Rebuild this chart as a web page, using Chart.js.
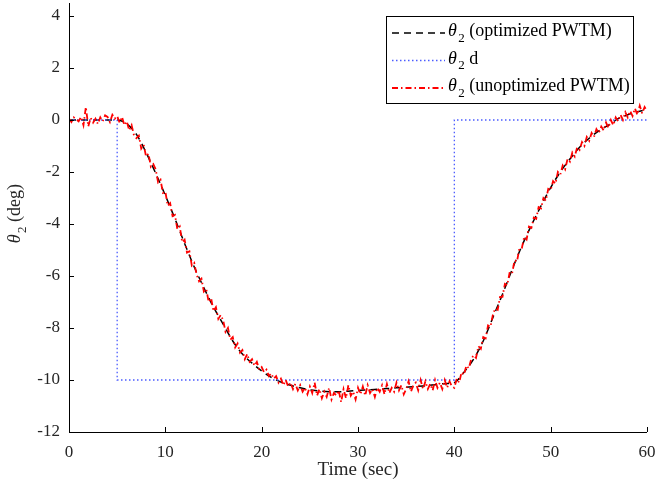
<!DOCTYPE html>
<html>
<head>
<meta charset="utf-8">
<script src="https://cdn.jsdelivr.net/npm/chart.js@4.4.1/dist/chart.umd.min.js"></script>
<style>
  html, body { margin: 0; padding: 0; background: #fff; }
  #wrap { width: 666px; height: 485px; position: relative; }
</style>
</head>
<body>
<div id="wrap"><canvas id="thetaChart"></canvas></div>
<script>
// desired trajectory (step)
const timeStep = [0, 5, 5, 40, 40, 60];
const thetaD = [0, 0, -10, -10, 0, 0];

// optimized PWTM response, sampled every second
const timeCoarse = [0, 1, 2, 3, 4, 5, 6, 7, 8, 9, 10, 11, 12, 13, 14, 15, 16, 17, 18, 19, 20,
    21, 22, 23, 24, 25, 26, 27, 28, 29, 30, 31, 32, 33, 34, 35, 36, 37, 38, 39, 40,
    41, 42, 43, 44, 45, 46, 47, 48, 49, 50, 51, 52, 53, 54, 55, 56, 57, 58, 59, 60];
const thetaOpt = [0, 0, 0, 0, 0, 0, -0.15, -0.55, -1.25, -2.05, -2.9,
    -3.8, -4.75, -5.65, -6.45, -7.2, -7.85, -8.5, -9.0, -9.35, -9.65,
    -9.9, -10.08, -10.2, -10.3, -10.38, -10.42, -10.45, -10.45, -10.43, -10.4,
    -10.38, -10.36, -10.33, -10.3, -10.28, -10.25, -10.22, -10.18, -10.14, -10.1,
    -9.7, -9.2, -8.5, -7.6, -6.7, -5.75, -4.85, -4.05, -3.3, -2.6,
    -2.0, -1.5, -1.05, -0.7, -0.42, -0.2, 0.05, 0.2, 0.32, 0.4];

// unoptimized PWTM response, sampled every 0.25 s
const thetaUnopt = [
    0.05, -0.08, 0.1, 0.02,
    -0.05, 0.12, -0.2, 0.5,
    -0.25, 0.08, -0.1, 0.05,
    -0.15, 0.1, -0.05, 0.18,
    0.12, -0.08, 0.2, 0.05,
    0.15, -0.1, 0.12, -0.2,
    -0.05, -0.4, -0.2, -0.6,
    -0.7, -0.6, -1.1, -0.95,
    -1.4, -1.3, -1.8, -1.7,
    -1.9, -2.4, -2.3, -2.8,
    -2.75, -3.3, -3.2, -3.7,
    -3.65, -4.2, -4.1, -4.7,
    -4.6, -5.1, -5.05, -5.6,
    -5.5, -5.95, -6.2, -6.1,
    -6.6, -6.5, -7.0, -6.85,
    -7.35, -7.2, -7.65, -7.5,
    -7.7, -8.15, -8.0, -8.45,
    -8.35, -8.75, -8.6, -8.95,
    -8.85, -9.2, -9.0, -9.3,
    -9.2, -9.45, -9.3, -9.6,
    -9.5, -9.7, -9.6, -9.85,
    -9.75, -9.95, -9.85, -10.1,
    -9.95, -10.2, -10.0, -10.25,
    -10.1, -10.35, -10.15, -10.4,
    -10.2, -10.45, -10.3, -10.55,
    -10.25, -10.5, -10.1, -10.6,
    -10.35, -10.7, -10.45, -10.65,
    -10.3, -10.75, -10.5, -10.6,
    -10.4, -10.85, -10.35, -10.7,
    -10.2, -10.6, -10.45, -10.75,
    -10.3, -10.55, -10.25, -10.6,
    -10.2, -10.5, -10.35, -10.65,
    -10.3, -10.45, -10.2, -10.55,
    -10.15, -10.5, -10.3, -10.45,
    -10.1, -10.4, -10.2, -10.55,
    -10.35, -10.05, -10.45, -10.2,
    -10.1, -10.4, -10.0, -10.35,
    -10.05, -10.35, -10.15, -10.4,
    -10.0, -10.3, -10.1, -10.35,
    -10.0, -10.3, -10.05, -10.25,
    -10.3, -9.95, -10.1, -9.7,
    -9.8, -9.45, -9.55, -9.2,
    -9.05, -9.15, -8.7, -8.8,
    -8.35, -8.4, -7.9, -7.95,
    -7.5, -7.25, -7.3, -6.8,
    -6.8, -6.3, -6.35, -5.85,
    -5.9, -5.4, -5.45, -4.95,
    -4.95, -4.5, -4.6, -4.1,
    -4.15, -3.75, -3.8, -3.35,
    -3.4, -3.0, -3.1, -2.65,
    -2.7, -2.35, -2.45, -2.0,
    -2.1, -1.75, -1.9, -1.5,
    -1.6, -1.25, -1.4, -1.05,
    -1.15, -0.85, -1.0, -0.65,
    -0.8, -0.5, -0.65, -0.35,
    -0.5, -0.25, -0.4, -0.1,
    -0.3, 0.0, -0.2, 0.1,
    -0.05, 0.2, 0.0, 0.3,
    0.1, 0.35, 0.15, 0.45,
    0.2, 0.55, 0.25, 0.5,
    0.35
];
const timeFine = thetaUnopt.map((v, i) => i * 0.25);

const xTicks = [0, 10, 20, 30, 40, 50, 60];
const yTicks = [-12, -10, -8, -6, -4, -2, 0, 2, 4];

const SERIF = '"Liberation Serif", "Times New Roman", serif';
const TEXT = '#262626';

function pairs(xs, ys) {
    return xs.map((x, i) => ({ x: x, y: ys[i] }));
}

// italic theta with subscript 2, returns width used
function drawTheta(ctx, x, y, size) {
    ctx.font = 'italic ' + size + 'px ' + SERIF;
    ctx.fillText('\u03b8', x, y);
    const w = ctx.measureText('\u03b8').width + 1.5;
    ctx.font = Math.round(size * 0.72) + 'px ' + SERIF;
    ctx.fillText('2', x + w, y + size * 0.32);
    return w + ctx.measureText('2').width;
}

// axis lines with MATLAB style inward ticks, y title and boxed legend
const matlabDecor = {
    id: 'matlabDecor',
    afterDraw(chart) {
        const ctx = chart.ctx;
        const area = chart.chartArea;
        const xs = chart.scales.x, ys = chart.scales.y;
        ctx.save();
        ctx.strokeStyle = '#000';
        ctx.lineWidth = 1;
        ctx.setLineDash([]);
        ctx.beginPath();
        ctx.moveTo(area.left + 0.5, area.top);
        ctx.lineTo(area.left + 0.5, area.bottom + 0.5);
        ctx.lineTo(area.right, area.bottom + 0.5);
        xTicks.forEach(v => {
            const px = Math.round(xs.getPixelForValue(v)) + 0.5;
            ctx.moveTo(px, area.bottom);
            ctx.lineTo(px, area.bottom - 5);
        });
        yTicks.forEach(v => {
            const py = Math.round(ys.getPixelForValue(v)) + 0.5;
            ctx.moveTo(area.left, py);
            ctx.lineTo(area.left + 5, py);
        });
        ctx.stroke();

        // y axis title
        ctx.fillStyle = TEXT;
        ctx.textBaseline = 'alphabetic';
        ctx.translate(20, 213);
        ctx.rotate(-Math.PI / 2);
        ctx.font = '18px ' + SERIF;
        const rest = ' (deg)';
        const total = 18 + ctx.measureText(rest).width;
        const tw = drawTheta(ctx, -total / 2, 0, 18);
        ctx.font = '18px ' + SERIF;
        ctx.fillText(rest, -total / 2 + tw, 0);
        ctx.setTransform(1, 0, 0, 1, 0, 0);
        ctx.restore();

        // legend
        ctx.save();
        const box = { left: 386.5, top: 16.5, right: 633.5, bottom: 103.5 };
        ctx.fillStyle = '#fff';
        ctx.fillRect(box.left, box.top, box.right - box.left, box.bottom - box.top);
        ctx.strokeStyle = '#000';
        ctx.lineWidth = 1;
        ctx.strokeRect(box.left, box.top, box.right - box.left, box.bottom - box.top);
        chart.data.datasets.forEach((ds, i) => {
            const y = 33 + i * 27.5;
            ctx.strokeStyle = ds.borderColor;
            ctx.lineWidth = ds.borderWidth;
            ctx.setLineDash(ds.borderDash);
            ctx.beginPath();
            ctx.moveTo(392, y);
            ctx.lineTo(445, y);
            ctx.stroke();
            ctx.setLineDash([]);
            ctx.fillStyle = '#000';
            const w = drawTheta(ctx, 448, y + 3, 18);
            ctx.font = '18px ' + SERIF;
            ctx.fillText(ds.label.replace('\u03b8\u2082', ''), 448 + w, y + 3);
        });
        ctx.restore();
    }
};

const ctx = document.getElementById('thetaChart').getContext('2d');
new Chart(ctx, {
    type: 'line',
    data: {
        datasets: [{
            label: '\u03b8\u2082 (optimized PWTM)',
            data: pairs(timeCoarse, thetaOpt),
            borderColor: '#000000',
            borderWidth: 1.5,
            borderDash: [7, 5],
            cubicInterpolationMode: 'monotone',
            pointRadius: 0,
            order: 2
        }, {
            label: '\u03b8\u2082 d',
            data: pairs(timeStep, thetaD),
            borderColor: '#4b5cff',
            borderWidth: 1.3,
            borderDash: [1.5, 2.5],
            tension: 0,
            pointRadius: 0,
            order: 1
        }, {
            label: '\u03b8\u2082 (unoptimized PWTM)',
            data: pairs(timeFine, thetaUnopt),
            borderColor: '#ff0000',
            borderWidth: 1.8,
            borderDash: [6, 3, 1.5, 3],
            tension: 0,
            pointRadius: 0,
            order: 0
        }]
    },
    options: {
        responsive: true,
        maintainAspectRatio: false,
        animation: false,
        events: [],
        layout: { padding: { top: 3, right: 19, left: 0, bottom: 0 } },
        plugins: {
            legend: { display: false },
            tooltip: { enabled: false }
        },
        scales: {
            x: {
                type: 'linear',
                min: 0,
                max: 60,
                afterBuildTicks: s => { s.ticks = xTicks.map(v => ({ value: v })); },
                afterFit: s => { s.height = 53; s.paddingLeft = 0; s.paddingRight = 0; },
                grid: { display: false, drawTicks: false },
                border: { display: false },
                ticks: {
                    padding: 10,
                    color: TEXT,
                    font: { family: SERIF, size: 17 }
                },
                title: {
                    display: true,
                    text: 'Time (sec)',
                    color: TEXT,
                    padding: { top: 0 },
                    font: { family: SERIF, size: 19 }
                }
            },
            y: {
                type: 'linear',
                min: -12,
                max: 4.5,
                afterBuildTicks: s => { s.ticks = yTicks.map(v => ({ value: v })); },
                afterFit: s => { s.width = 69; s.paddingTop = 0; s.paddingBottom = 0; },
                grid: { display: false, drawTicks: false },
                border: { display: false },
                ticks: {
                    padding: 9,
                    color: TEXT,
                    font: { family: SERIF, size: 17 }
                }
            }
        }
    },
    plugins: [matlabDecor]
});
</script>
</body>
</html>
